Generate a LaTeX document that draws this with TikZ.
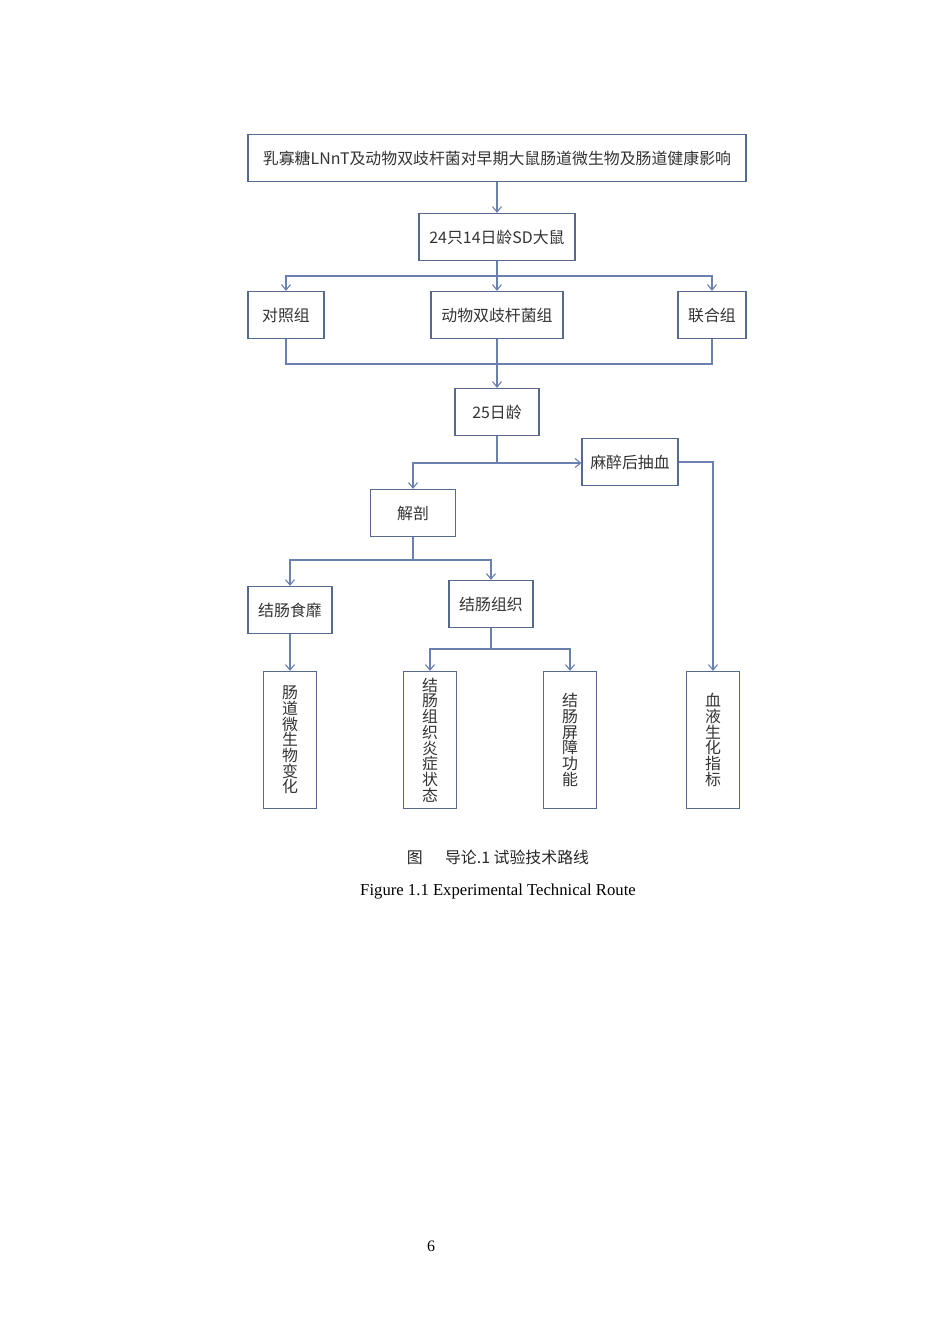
\documentclass[tikz,border=0pt]{standalone}
\usepackage{fontspec}
\setmainfont{Liberation Serif}
\newfontfamily\cjk{Noto Sans CJK SC}
\usepackage{xcolor}
\usetikzlibrary{arrows.meta}

\definecolor{routeline}{HTML}{6A80B0}
\definecolor{boxline}{HTML}{56698F}
\def\u{0.2211mm}

\tikzset{
	stage/.style={draw=boxline, line width=0.8pt, inner sep=0pt, minimum height=47*\u,
		font=\cjk\fontsize{10}{12}\selectfont, text=black!80},
	result/.style={stage, minimum width=53*\u, minimum height=137*\u, align=center,
		font=\cjk\fontsize{10}{9.9}\selectfont},
	route/.style={draw=routeline, line width=0.7pt},
	flow/.style={route, -{Straight Barb[length=1.2mm, width=2mm]}}
}

\begin{document}
\begin{tikzpicture}[x=\u, y=-\u]
	\useasboundingbox (0,0) rectangle (950,1344);

	% boxes
	\node[stage, minimum width=498*\u] (title) at (497,158) {乳寡糖LNnT及动物双歧杆菌对早期大鼠肠道微生物及肠道健康影响};
	\node[stage, minimum width=156*\u] (rats) at (497,237) {24只14日龄SD大鼠};
	\node[stage, minimum width=76*\u] (ctrl) at (286,315) {对照组};
	\node[stage, minimum width=132*\u] (bif) at (497,315) {动物双歧杆菌组};
	\node[stage, minimum width=68*\u] (comb) at (712,315) {联合组};
	\node[stage, minimum width=84*\u] (age) at (497,412) {25日龄};
	\node[stage, minimum width=96*\u] (blood) at (630,462) {麻醉后抽血};
	\node[stage, minimum width=85*\u] (dis) at (413,513) {解剖};
	\node[stage, minimum width=84*\u] (digesta) at (290,610) {结肠食靡};
	\node[stage, minimum width=84*\u] (tissue) at (491,604) {结肠组织};

	\node[result] (micro) at (290,740) {肠\\道\\微\\生\\物\\变\\化};
	\node[result] (infl) at (430,740) {结\\肠\\组\\织\\炎\\症\\状\\态};
	\node[result] (barrier) at (570,740) {结\\肠\\屏\\障\\功\\能};
	\node[result] (serum) at (713,740) {血\\液\\生\\化\\指\\标};

	% branch points
	\coordinate (split1) at (497,276);
	\coordinate (merge) at (497,364);
	\coordinate (split2) at (497,463);
	\coordinate (split3) at (413,560);
	\coordinate (split4) at (491,649);

	% connectors
	\draw[flow] (title) -- (rats);
	\draw[flow] (rats) -- (bif);
	\draw[flow] (split1) -| (ctrl.north);
	\draw[flow] (split1) -| (comb.north);
	\draw[route] (ctrl.south) |- (merge) -| (comb.south);
	\draw[flow] (bif) -- (age);
	\draw[route] (age.south) -- (split2);
	\draw[flow] (split2) -| (dis.north);
	\draw[flow] (split2) -- (split2 -| blood.west);
	\draw[flow] (blood.east) -| (serum.north);
	\draw[route] (dis.south) -- (split3);
	\draw[flow] (split3) -| (digesta.north);
	\draw[flow] (split3) -| (tissue.north);
	\draw[flow] (digesta) -- (micro);
	\draw[route] (tissue.south) -- (split4);
	\draw[flow] (split4) -| (infl.north);
	\draw[flow] (split4) -| (barrier.north);

	% caption
	\node[font=\cjk\fontsize{10}{12}\selectfont, text=black!85] (capzh) at (498,857) {图\hspace{1.4em}导论.1 试验技术路线};
	\node[font=\fontsize{10.5}{12}\selectfont] (capen) at (498,891) {Figure 1.1 Experimental Technical Route};
	\node[font=\fontsize{10}{12}\selectfont] (pagenum) at (431,1246) {6};
\end{tikzpicture}
\end{document}
